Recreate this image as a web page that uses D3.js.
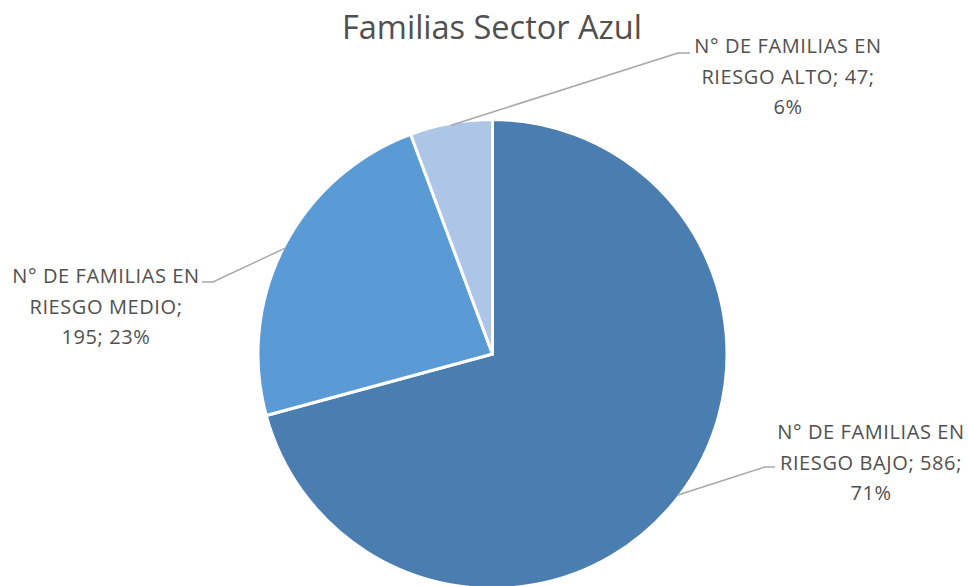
<!DOCTYPE html>
<html><head><meta charset="utf-8">
<script src="https://cdn.jsdelivr.net/npm/d3@7"></script>
<style>body{margin:0;background:#fff}svg{display:block}</style>
</head><body>
<svg id="c" width="968" height="586"></svg>
<script>
const categories = ["N° DE FAMILIAS EN RIESGO BAJO", "N° DE FAMILIAS EN RIESGO MEDIO", "N° DE FAMILIAS EN RIESGO ALTO"];
const values = [586, 195, 47];
const percents = ["71%", "23%", "6%"];
const labelLines = [
  ["N° DE FAMILIAS EN", "RIESGO BAJO; 586;", "71%"],
  ["N° DE FAMILIAS EN", "RIESGO MEDIO;", "195; 23%"],
  ["N° DE FAMILIAS EN", "RIESGO ALTO; 47;", "6%"]
];
const colors = ["#4a7eb0", "#5b9bd5", "#adc5e6"];
const title = "Familias Sector Azul";

const svg = d3.select("#c");
const cx = 492.5, cy = 354, r = 234.5;
const font = "'Open Sans', sans-serif";
const textColor = "#505050";

svg.append("text").attr("x", 492).attr("y", 39).attr("text-anchor", "middle")
  .attr("font-family", font).attr("font-size", 32.5).attr("fill", textColor).text(title);

const pie = d3.pie().sort(null).value(d => d)(values);
const arc = d3.arc().innerRadius(0).outerRadius(r);
const g = svg.append("g").attr("transform", `translate(${cx},${cy})`);
g.selectAll("path").data(pie).join("path")
  .attr("d", arc).attr("fill", (d, i) => colors[i])
  .attr("stroke", "#fff").attr("stroke-width", 3).attr("stroke-linejoin", "round");

const labelPos = [
  {x: 871, y: 432, elbow: [765, 467], end: [775, 467]},
  {x: 106, y: 276, elbow: [213, 282], end: [202, 282]},
  {x: 788, y: 46, elbow: [678, 53], end: [690, 53]}
];
const lineH = 30.5;
pie.forEach((d, i) => {
  const p = labelPos[i];
  const a = (d.startAngle + d.endAngle) / 2;
  const sx = cx + Math.sin(a) * (r - 2), sy = cy - Math.cos(a) * (r - 2);
  svg.append("polyline")
    .attr("points", [[sx, sy], p.elbow, p.end].map(q => q.join(",")).join(" "))
    .attr("fill", "none").attr("stroke", "#a6a6a6").attr("stroke-width", 1.5);
  const t = svg.append("text").attr("text-anchor", "middle")
    .attr("font-family", font).attr("font-size", 20).attr("letter-spacing", 0.6)
    .attr("fill", textColor);
  labelLines[i].forEach((ln, k) => {
    t.append("tspan").attr("x", p.x).attr("y", p.y + 7 + k * lineH).text(ln);
  });
});
</script>
</body></html>
